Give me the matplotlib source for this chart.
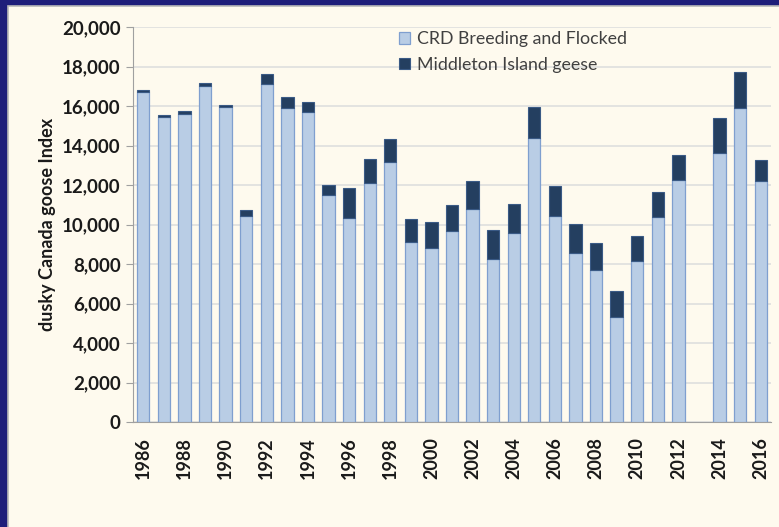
import numpy as np
import matplotlib
matplotlib.use("Agg")
import matplotlib.pyplot as plt
from matplotlib.patches import Rectangle

plt.rcParams['font.family'] = ['Lato', 'DejaVu Sans']

# survey years (no index in 2013)
years = [1986, 1987, 1988, 1989, 1990, 1991, 1992, 1993, 1994, 1995,
         1996, 1997, 1998, 1999, 2000, 2001, 2002, 2003, 2004, 2005,
         2006, 2007, 2008, 2009, 2010, 2011, 2012, 2014, 2015, 2016]
crd = [16700, 15450, 15600, 17000, 15950, 10450, 17100, 15900, 15700, 11500,
       10350, 12100, 13150, 9100, 8800, 9650, 10800, 8250, 9550, 14400,
       10450, 8550, 7700, 5300, 8150, 10400, 12250, 13600, 15900, 12200]
total = [16800, 15550, 15750, 17150, 16050, 10750, 17600, 16450, 16200, 12000,
         11850, 13300, 14350, 10300, 10150, 11000, 12200, 9700, 11050, 15950,
         11950, 10050, 9050, 6650, 9400, 11650, 13500, 15400, 17700, 13250]
middleton = [t - c for t, c in zip(total, crd)]

yticks = list(range(0, 20001, 2000))
xticks = list(range(1986, 2017, 2))

fig = plt.figure(figsize=(7.79, 5.27), dpi=100)
fig.patch.set_facecolor('#1e1e7a')
# cream slide panel
panel = Rectangle((8 / 779, -0.05), 1, 521 / 527 + 0.05, transform=fig.transFigure,
                  facecolor='#fefaee', edgecolor='#b8b8b8', linewidth=1.2, zorder=-5)
fig.add_artist(panel)

ax = fig.add_axes([133 / 779, 105 / 527, 638 / 779, 395 / 527])
ax.set_zorder(5)
ax.set_facecolor('#fefaee')

ax.bar(years, crd, width=0.6, color='#b9cde5', edgecolor='#7f9fcf', linewidth=0.9,
       label='CRD Breeding and Flocked', zorder=3)
ax.bar(years, middleton, bottom=crd, width=0.6, color='#243f60', edgecolor='#3a5a85',
       linewidth=0.8, label='Middleton Island geese', zorder=3)

ax.set_xlim(1985.5, 2016.5)
ax.set_ylim(0, 20000)
ax.set_yticks(yticks)
ax.set_yticklabels([f'{v:,}' for v in yticks], fontsize=13.5, fontweight='bold', color='#1a1a1a')
ax.set_xticks(xticks)
ax.set_xticklabels([str(v) for v in xticks], rotation=90, fontsize=13,
                   fontweight='bold', color='#1a1a1a')
ax.tick_params(axis='y', length=5, color='#a0a0a0', pad=4)
ax.tick_params(axis='x', length=0, pad=11)

ax.grid(axis='y', color='#dcdcdc', linewidth=1.1, zorder=0)
ax.set_axisbelow(True)
for s in ['top', 'right']:
    ax.spines[s].set_visible(False)
ax.spines['left'].set_color('#a0a0a0')
ax.spines['bottom'].set_color('#a0a0a0')

ax.set_ylabel('dusky Canada goose Index', fontsize=13, fontweight='bold', color='#1a1a1a', labelpad=4)

leg = ax.legend(loc='upper left', bbox_to_anchor=(0.392, 1.03), frameon=False, fontsize=12.8,
                handlelength=0.6, handleheight=0.6, handletextpad=0.4, labelspacing=0.55)
for t in leg.get_texts():
    t.set_color('#404040')

fig.savefig('out.png', dpi=100, facecolor=fig.get_facecolor())
